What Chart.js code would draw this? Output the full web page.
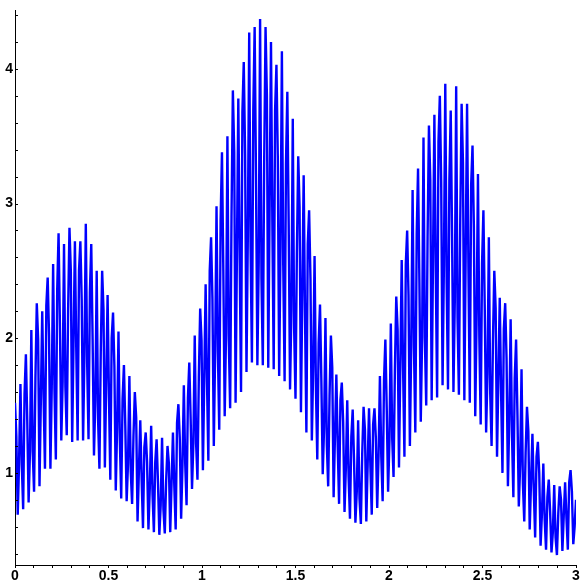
<!DOCTYPE html>
<html>
<head>
<meta charset="utf-8">
<script src="https://cdn.jsdelivr.net/npm/chart.js"></script>
<style>
  html, body { margin: 0; padding: 0; background: #ffffff; }
  #c { display: block; }
</style>
</head>
<body>
<canvas id="c" width="584" height="584"></canvas>
<script>
// ---- data ----
const xStart = 0;
const xEnd = 3;
// top of each oscillation (local maxima), left to right
const peakValues = [
  1.52,1.66,1.88,2.06,2.26,2.2,2.45,2.55,2.78,2.7,
  2.82,2.72,2.72,2.85,2.7,2.5,2.5,2.32,2.19,2.05,
  1.8,1.72,1.6,1.39,1.3,1.35,1.25,1.26,1.2,1.3,
  1.51,1.65,1.82,2.02,2.22,2.4,2.75,2.98,3.38,3.5,
  3.84,3.78,4.05,4.27,4.31,4.37,4.31,4.2,4.03,4.13,
  3.83,3.63,3.35,3.21,2.95,2.61,2.25,2.15,2.02,1.73,
  1.67,1.54,1.47,1.39,1.49,1.48,1.48,1.72,1.99,2.11,
  2.31,2.58,2.8,3.1,3.26,3.49,3.58,3.66,3.8,3.89,
  3.69,3.87,3.74,3.74,3.43,3.22,2.95,2.75,2.5,2.3,
  2.26,2.14,1.99,1.77,1.49,1.29,1.23,1.07,0.95,0.91,
  0.9,0.93,1.02,0.8
];
// bottom of each oscillation (local minima), left to right
const troughValues = [
  0.69,0.73,0.78,0.86,0.9,1.03,1.03,1.1,1.24,1.28,
  1.23,1.24,1.24,1.25,1.13,1.03,1.04,0.95,0.87,0.81,
  0.79,0.77,0.64,0.59,0.58,0.56,0.54,0.55,0.56,0.58,
  0.66,0.76,0.88,0.95,1.02,1.09,1.2,1.32,1.42,1.48,
  1.52,1.6,1.75,1.82,1.8,1.8,1.78,1.77,1.72,1.68,
  1.62,1.55,1.45,1.3,1.24,1.1,0.99,0.9,0.82,0.77,
  0.71,0.66,0.63,0.62,0.64,0.69,0.74,0.79,0.86,0.97,
  1.04,1.12,1.2,1.3,1.38,1.5,1.54,1.56,1.65,1.62,
  1.6,1.58,1.54,1.52,1.42,1.36,1.3,1.2,1.12,1.0,
  0.9,0.82,0.75,0.64,0.58,0.52,0.46,0.43,0.41,0.39,
  0.42,0.43,0.47
];
// partial-stroke samples on each falling edge (peak -> trough)
const fallingValues = [
  1.27,1.06,1.39,1.16,1.99,1.56,2.02,1.61,2.09,1.64,
  2.5,1.91,2.28,1.81,1.99,1.4,2.21,1.57,1.79,1.24,
  1.35,1.01,1.41,0.95,1.08,0.84,0.93,0.73,1.07,0.9,
  1.26,1.07,1.4,1.22,1.98,1.68,2.29,1.9,2.5,1.99,
  3.38,2.58,3.36,2.68,3.18,2.44,3.8,2.86,3.34,2.54,
  2.84,2.07,2.97,2.16,2.44,1.63,1.68,1.21,1.78,1.2,
  1.38,0.97,1.09,0.81,1.32,1.05,1.26,1.12,1.48,1.26,
  2.06,1.78,2.32,1.93,2.41,2.0,3.17,2.51,3.16,2.41,
  2.75,2.15,3.3,2.52,2.83,2.01,2.21,1.59,2.22,1.59,
  1.85,1.28,1.43,0.92,1.31,0.87,1.0,0.65,0.71,0.52,
  0.8,0.66,0.86
];
// partial-stroke samples on each rising edge (trough -> next peak)
const risingValues = [
  1.08,1.59,1.16,1.7,1.55,2.24,1.64,2.36,1.68,2.2,
  1.98,2.5,1.88,2.34,1.54,1.91,1.68,2.0,1.34,1.55,
  1.07,1.27,1.02,1.19,0.89,1.08,0.76,0.94,0.93,1.37,
  1.06,1.56,1.22,1.71,1.71,2.5,1.91,2.87,2.04,2.9,
  2.65,3.68,2.76,3.69,2.57,3.31,2.99,3.69,2.68,3.29,
  2.22,2.63,2.33,2.7,1.79,1.96,1.34,1.57,1.28,1.54,
  1.04,1.27,0.86,1.14,1.06,1.36,1.13,1.69,1.24,1.77,
  1.81,2.55,1.96,2.77,2.01,2.75,2.6,3.46,2.55,3.17,
  2.28,2.88,2.64,3.14,2.14,2.55,1.74,1.98,1.71,2.07,
  1.4,1.7,1.06,1.15,0.94,1.12,0.7,0.82,0.56,0.7,
  0.68,0.93,0.6
];
// axis ticks
const xTickValues = [0,0.1,0.2,0.3,0.4,0.5,0.6,0.7,0.8,0.9,1,1.1,1.2,1.3,1.4,1.5,1.6,1.7,1.8,1.9,2,2.1,2.2,2.3,2.4,2.5,2.6,2.7,2.8,2.9,3];
const xLabelValues = [0,0.5,1,1.5,2,2.5,3];
const xTickLabels = ['0','0.5','1','1.5','2','2.5','3'];
const yLabelValues = [1,2,3,4];
const yTickLabels = ['1','2','3','4'];
const yMinorTicks = [0.4,0.6,0.8,1,1.2,1.4,1.6,1.8,2,2.2,2.4,2.6,2.8,3,3.2,3.4,3.6,3.8,4,4.2,4.4];
const yMin = 0.316;
const yMax = 4.434;

// ---- series in sample order on a uniform grid ----
const series = [];
for (let k = 0; k < peakValues.length; k++) {
  series.push(peakValues[k]);
  if (k < troughValues.length) {
    series.push(fallingValues[k], troughValues[k], risingValues[k]);
  }
}
const n = series.length;
const points = series.map((v, i) => ({ x: xStart + (xEnd - xStart) * i / (n - 1), y: v }));

const labelFont = { family: 'Liberation Sans, Arial, sans-serif', size: 14, weight: 'bold' };

const innerTicks = {
  id: 'innerTicks',
  afterDraw(chart) {
    const ctx = chart.ctx;
    const ys = chart.scales.y;
    const left = chart.chartArea.left;
    ctx.save();
    ctx.strokeStyle = '#000';
    ctx.lineWidth = 1;
    ctx.beginPath();
    yMinorTicks.forEach(v => {
      const py = Math.round(ys.getPixelForValue(v)) + 0.5;
      ctx.moveTo(left, py);
      ctx.lineTo(left + 3, py);
    });
    ctx.stroke();
    ctx.restore();
  }
};

new Chart(document.getElementById('c'), {
  type: 'line',
  data: {
    datasets: [{
      data: points,
      borderColor: '#0000ff',
      borderWidth: 2.4,
      borderJoinStyle: 'bevel',
      pointRadius: 0,
      tension: 0,
      fill: false
    }]
  },
  options: {
    responsive: false,
    animation: false,
    devicePixelRatio: 1,
    layout: { padding: { top: 5, right: 8, left: 0, bottom: 0 } },
    plugins: { legend: { display: false }, tooltip: { enabled: false } },
    scales: {
      x: {
        type: 'linear',
        min: xStart,
        max: xEnd,
        afterFit: s => { s.height = 19; },
        afterBuildTicks: s => { s.ticks = xTickValues.map(v => ({ value: v })); },
        ticks: {
          autoSkip: false,
          maxRotation: 0,
          minRotation: 0,
          padding: 0,
          color: '#000',
          font: labelFont,
          callback: (v) => {
            const j = xLabelValues.findIndex(t => Math.abs(t - v) < 1e-6);
            return j >= 0 ? xTickLabels[j] : '';
          }
        },
        grid: { drawOnChartArea: false, drawTicks: true, tickLength: 3, color: '#000' },
        border: { display: true, color: '#000', width: 1 }
      },
      y: {
        type: 'linear',
        min: yMin,
        max: yMax,
        afterFit: s => { s.width = 15; },
        afterBuildTicks: s => { s.ticks = yLabelValues.map(v => ({ value: v })); },
        ticks: {
          autoSkip: false,
          padding: 2,
          color: '#000',
          font: labelFont,
          callback: (v) => {
            const j = yLabelValues.findIndex(t => Math.abs(t - v) < 1e-6);
            return j >= 0 ? yTickLabels[j] : '';
          }
        },
        grid: { drawOnChartArea: false, drawTicks: false, color: '#000' },
        border: { display: true, color: '#000', width: 1 }
      }
    }
  },
  plugins: [innerTicks]
});
</script>
</body>
</html>
